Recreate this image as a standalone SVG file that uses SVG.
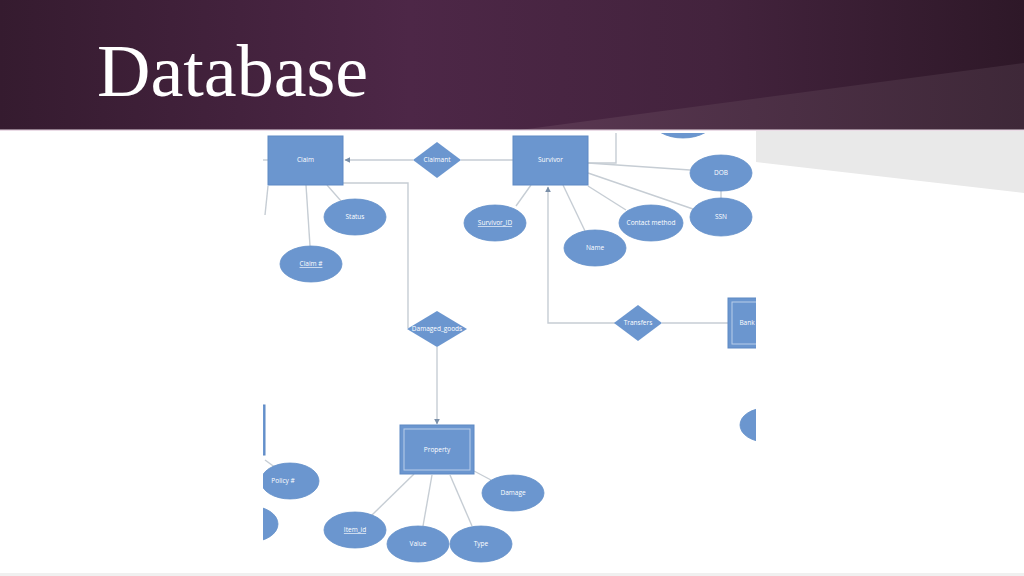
<svg xmlns="http://www.w3.org/2000/svg" width="1024" height="576" viewBox="0 0 1024 576">
<defs>
<linearGradient id="hdr" x1="0" y1="0" x2="1" y2="0">
<stop offset="0" stop-color="#351b2f"/>
<stop offset="0.4" stop-color="#4d2747"/>
<stop offset="0.7" stop-color="#43233d"/>
<stop offset="1" stop-color="#2e1828"/>
</linearGradient>
<linearGradient id="wedge" x1="0" y1="0" x2="1" y2="0">
<stop offset="0" stop-color="#5a3752"/>
<stop offset="1" stop-color="#3e2838"/>
</linearGradient>
<marker id="arr" viewBox="0 0 10 10" refX="9" refY="5" markerWidth="6" markerHeight="6" orient="auto" markerUnits="userSpaceOnUse">
<path d="M0,0 L10,5 L0,10 z" fill="#7a8fa8"/>
</marker>
<clipPath id="img"><rect x="263" y="133" width="493" height="437"/></clipPath>
</defs>
<style>
.ent{fill:#6b96cf;stroke:#5e89c4;stroke-width:1}
.inner{fill:none;stroke:#b9cdea;stroke-width:1}
.att{fill:#6b96cf;stroke:#6590c9;stroke-width:0.8}
.rel{fill:#6b96cf}
.ln{fill:none;stroke:#c6cdd4;stroke-width:1.4}
.lbl{font-family:"Open Sans","Liberation Sans",sans-serif;font-size:6.5px;fill:#ffffff;text-anchor:middle;dominant-baseline:middle}
.u{text-decoration:underline}
</style>
<rect width="1024" height="576" fill="#ffffff"/>
<rect x="0" y="0" width="1024" height="130" fill="url(#hdr)"/>
<polygon points="520,130 1024,63 1024,130" fill="url(#wedge)"/>
<rect x="0" y="129.5" width="1024" height="1.5" fill="#eadbe6"/>
<polygon points="756,131 1024,131 1024,193 756,162" fill="#e9e9e9"/>
<rect x="0" y="573" width="1024" height="3" fill="#f0f0f0"/>
<text x="97" y="96" font-family="Liberation Serif, serif" font-size="74" fill="#ffffff">Database</text>

<g clip-path="url(#img)">
<g id="connectors">
<line class="ln" x1="263" y1="160" x2="268" y2="160"/>
<line class="ln" x1="268" y1="186" x2="265" y2="215"/>
<line class="ln" x1="413" y1="160" x2="345" y2="160" marker-end="url(#arr)"/>
<line class="ln" x1="461" y1="160" x2="513" y2="160"/>
<polyline class="ln" points="343,183 408,183 408,328"/>
<line class="ln" x1="437" y1="347" x2="437" y2="424" marker-end="url(#arr)"/>
<line class="ln" x1="327" y1="185" x2="341" y2="201"/>
<line class="ln" x1="306" y1="185" x2="310" y2="246"/>
<line class="ln" x1="531" y1="185" x2="516" y2="206"/>
<line class="ln" x1="563" y1="185" x2="585" y2="231"/>
<line class="ln" x1="588" y1="186" x2="626" y2="210"/>
<line class="ln" x1="588" y1="163" x2="690" y2="170"/>
<line class="ln" x1="588" y1="173" x2="693" y2="209"/>
<line class="ln" x1="721" y1="191" x2="721" y2="199"/>
<polyline class="ln" points="588,163 616,163 616,133"/>
<polyline class="ln" points="638,323 548,323 548,187" marker-end="url(#arr)"/>
<line class="ln" x1="662" y1="323" x2="728" y2="323"/>
<line class="ln" x1="265" y1="460" x2="276" y2="468"/>
<line class="ln" x1="414" y1="474" x2="372" y2="515"/>
<line class="ln" x1="432" y1="475" x2="423" y2="526"/>
<line class="ln" x1="450" y1="475" x2="472" y2="526"/>
<line class="ln" x1="474" y1="471" x2="491" y2="480"/>
</g>

<g id="claim"><rect class="ent" x="268" y="136" width="75" height="49"/><text class="lbl" x="305.5" y="160.5">Claim</text></g>
<g id="claimant"><polygon class="rel" points="437,142 461,160 437,178 413,160"/><text class="lbl" x="437" y="160.5">Claimant</text></g>
<g id="survivor"><rect class="ent" x="513" y="136" width="75" height="49"/><text class="lbl" x="550.5" y="160.5">Survivor</text></g>
<g id="status"><ellipse class="att" cx="355" cy="217" rx="31" ry="18"/><text class="lbl" x="355" y="217.5">Status</text></g>
<g id="claimno"><ellipse class="att" cx="311" cy="264" rx="31" ry="18"/><text class="lbl u" x="311" y="264.5">Claim #</text></g>
<g id="survivorid"><ellipse class="att" cx="495" cy="223" rx="31" ry="18"/><text class="lbl u" x="495" y="223.5">Survivor_ID</text></g>
<g id="name"><ellipse class="att" cx="595" cy="248" rx="31" ry="18"/><text class="lbl" x="595" y="248.5">Name</text></g>
<g id="contact"><ellipse class="att" cx="651" cy="223" rx="32" ry="18"/><text class="lbl" x="651" y="223.5">Contact method</text></g>
<g id="dob"><ellipse class="att" cx="721" cy="173" rx="31" ry="18"/><text class="lbl" x="721" y="173.5">DOB</text></g>
<g id="ssn"><ellipse class="att" cx="721" cy="217" rx="31" ry="19"/><text class="lbl" x="721" y="217.5">SSN</text></g>
<g id="topattr"><ellipse class="att" cx="683" cy="120" rx="31" ry="18"/></g>
<g id="damaged"><polygon class="rel" points="437,311 467,329 437,347 407,329"/><text class="lbl" x="437" y="329.5">Damaged_goods</text></g>
<g id="transfers"><polygon class="rel" points="638,305 662,323 638,341 614,323"/><text class="lbl" x="638" y="323.5">Transfers</text></g>
<g id="bank"><rect class="ent" x="728" y="298" width="40" height="50"/><rect class="inner" x="732" y="302" width="32" height="42"/><text class="lbl" x="747" y="323.5">Bank</text></g>
<g id="rightattr"><ellipse class="att" cx="766" cy="425" rx="26" ry="17"/></g>
<g id="property"><rect class="ent" x="400" y="425" width="74" height="49"/><rect class="inner" x="404" y="429" width="66" height="41"/><text class="lbl" x="437" y="450">Property</text></g>
<g id="leftent"><rect class="ent" x="250" y="405" width="15" height="50"/></g>
<g id="policy"><ellipse class="att" cx="290" cy="481" rx="29" ry="18"/><text class="lbl" x="283" y="481.5">Policy #</text></g>
<g id="leftattr"><ellipse class="att" cx="250" cy="524" rx="28" ry="18"/></g>
<g id="itemid"><ellipse class="att" cx="355" cy="530" rx="31" ry="18"/><text class="lbl u" x="355" y="530.5">Item_id</text></g>
<g id="value"><ellipse class="att" cx="418" cy="544" rx="31" ry="18"/><text class="lbl" x="418" y="544.5">Value</text></g>
<g id="type"><ellipse class="att" cx="481" cy="544" rx="31" ry="18"/><text class="lbl" x="481" y="544.5">Type</text></g>
<g id="damage"><ellipse class="att" cx="513" cy="493" rx="31" ry="18"/><text class="lbl" x="513" y="493.5">Damage</text></g>
</g>
</svg>
